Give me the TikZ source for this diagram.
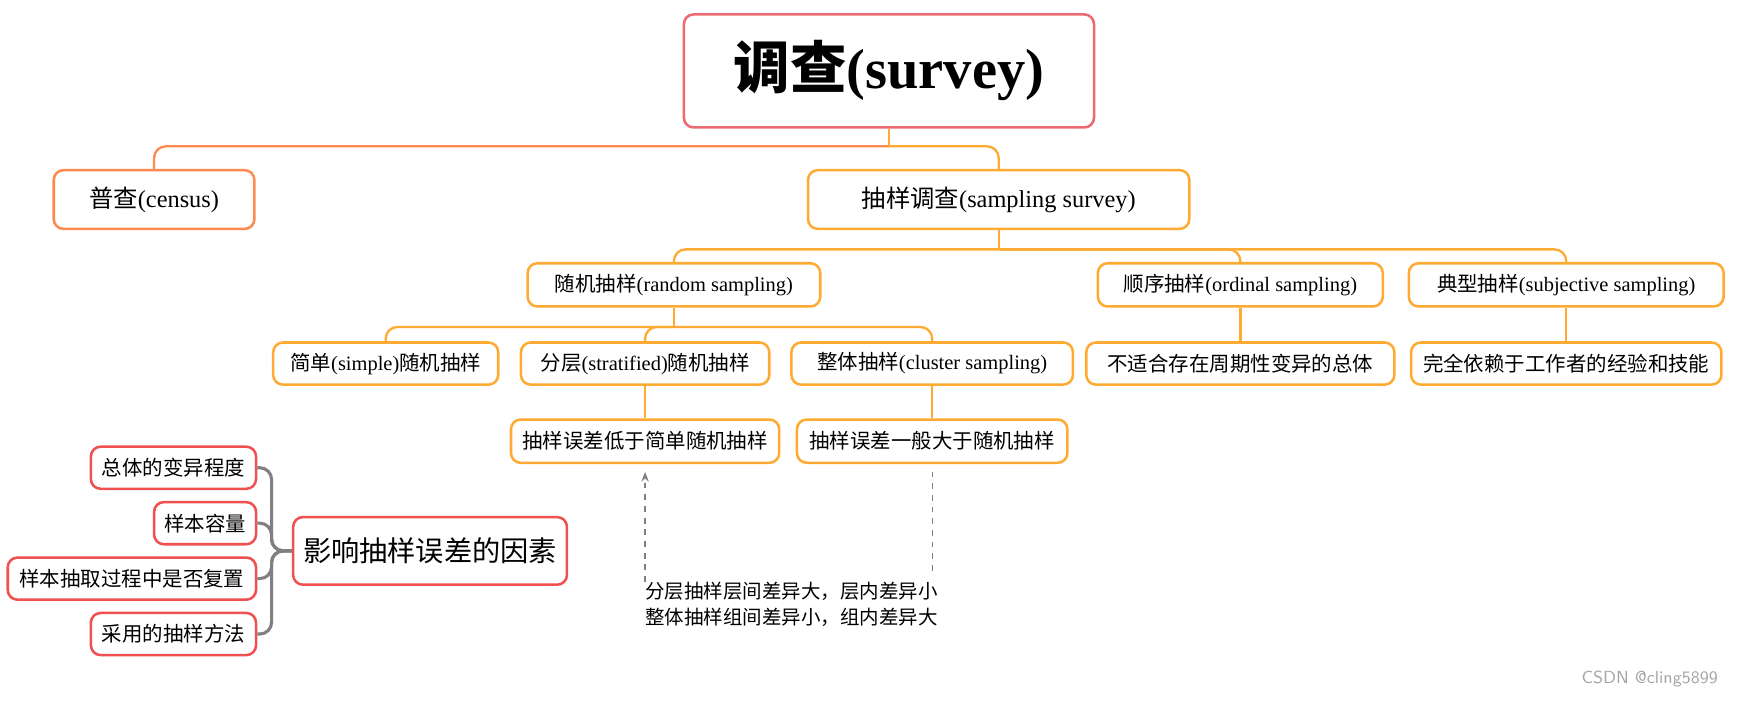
\documentclass[tikz,border=0pt]{standalone}
\usepackage{fontspec}
\setmainfont{Liberation Serif}
\newfontfamily\zh{Noto Sans CJK SC}
\usetikzlibrary{arrows.meta}
\definecolor{cred}{HTML}{EE6A72}
\definecolor{corg}{HTML}{FF8A50}
\definecolor{cyel}{HTML}{FFAA33}
\definecolor{cpink}{HTML}{F05050}
\tikzset{
 bx/.style={draw=cyel,line width=1.3pt,rounded corners=5pt,fill=white,inner sep=0pt,font=\fontsize{10.5}{12}\selectfont},
 conn/.style={draw=cyel,line width=1.2pt,rounded corners=6pt},
 gconn/.style={draw=gray,line width=1.6pt,rounded corners=6pt},
}
\begin{document}
\begin{tikzpicture}[x=0.02cm,y=-0.02cm]
\useasboundingbox (0,0) rectangle (1568,632);
\node[bx,draw=cred,minimum width=370*0.02cm,minimum height=102*0.02cm,font=\fontsize{29}{34}\selectfont\bfseries] (sv) at (802,64) {{\zh 调查}(survey)};
\node[bx,draw=corg,minimum width=181*0.02cm,minimum height=53*0.02cm,font=\fontsize{12.5}{14}\selectfont] (ce) at (139,180) {{\zh 普查}(census)};
\node[bx,minimum width=344*0.02cm,minimum height=53*0.02cm,font=\fontsize{12.5}{14}\selectfont] (ss) at (901,180) {{\zh 抽样调查}(sampling survey)};
\node[bx,minimum width=264*0.02cm,minimum height=39*0.02cm] (rs) at (608,257) {{\zh 随机抽样}(random sampling)};
\node[bx,minimum width=257*0.02cm,minimum height=39*0.02cm] (os) at (1119,257) {{\zh 顺序抽样}(ordinal sampling)};
\node[bx,minimum width=284*0.02cm,minimum height=39*0.02cm] (js) at (1413,257) {{\zh 典型抽样}(subjective sampling)};
\node[bx,minimum width=203*0.02cm,minimum height=38*0.02cm] (si) at (348,328) {{\zh 简单}(simple){\zh 随机抽样}};
\node[bx,minimum width=224*0.02cm,minimum height=38*0.02cm] (st) at (582,328) {{\zh 分层}(stratified){\zh 随机抽样}};
\node[bx,minimum width=254*0.02cm,minimum height=38*0.02cm] (cl) at (841,328) {{\zh 整体抽样}(cluster sampling)};
\node[bx,minimum width=278*0.02cm,minimum height=38*0.02cm] (od) at (1119,328) {\zh 不适合存在周期性变异的总体};
\node[bx,minimum width=280*0.02cm,minimum height=38*0.02cm] (jd) at (1413,328) {\zh 完全依赖于工作者的经验和技能};
\node[bx,minimum width=242*0.02cm,minimum height=39*0.02cm] (e1) at (582,398) {\zh 抽样误差低于简单随机抽样};
\node[bx,minimum width=244*0.02cm,minimum height=39*0.02cm] (e2) at (841,398) {\zh 抽样误差一般大于随机抽样};
\coordinate (b1) at (802,132);
\coordinate (b2) at (901,225);
\coordinate (b3) at (608,295);
\draw[conn,draw=corg] (b1) -| (ce.north);
\draw[conn] (b1) -| (ss.north);
\draw[conn] (sv.south) -- (b1);
\foreach \c in {rs,os,js}{\draw[conn] (b2) -| (\c.north);}
\draw[conn] (ss.south) -- (b2);
\foreach \c in {si,st,cl}{\draw[conn] (b3) -| (\c.north);}
\draw[conn] (rs.south) -- (b3);
\draw[conn] (os.south) -- (od.north);
\draw[conn] (js.south) -- (jd.north);
\draw[conn] (st.south) -- (e1.north);
\draw[conn] (cl.south) -- (e2.north);
% factors
\node[bx,draw=cpink,minimum width=247*0.02cm,minimum height=61*0.02cm,font=\fontsize{14.5}{16}\selectfont] (inf) at (388,497) {\zh 影响抽样误差的因素};
\node[bx,draw=cpink,minimum width=149*0.02cm,minimum height=38*0.02cm] (f1) at (156.5,422) {\zh 总体的变异程度};
\node[bx,draw=cpink,minimum width=92*0.02cm,minimum height=38*0.02cm] (f2) at (185,472) {\zh 样本容量};
\node[bx,draw=cpink,minimum width=224*0.02cm,minimum height=38*0.02cm] (f3) at (119,522) {\zh 样本抽取过程中是否复置};
\node[bx,draw=cpink,minimum width=149*0.02cm,minimum height=38*0.02cm] (f4) at (156.5,572) {\zh 采用的抽样方法};
\foreach \c in {f1,f2,f3,f4}{\draw[gconn] (inf.west) -- (245,497) |- (\c.east);}
% notes
\node[anchor=north west,inner sep=0pt,align=left,font=\zh\fontsize{10}{13}\selectfont] (nt) at (582,525) {分层抽样层间差异大，层内差异小\\整体抽样组间差异小，组内差异大};
\draw[gray,dashed,line width=0.7pt,-{Stealth[length=5pt]}] (nt.north west) -- ([yshift=-4pt]e1.south);
\coordinate (d2) at (841,515);
\draw[gray,dashed,line width=0.7pt] (d2) -- ([yshift=-4pt]e2.south);
\node[anchor=east,text=gray!70,font=\fontsize{9}{11}\selectfont\sffamily] (wm) at (1556,613) {CSDN @cling5899};
\end{tikzpicture}
\end{document}
